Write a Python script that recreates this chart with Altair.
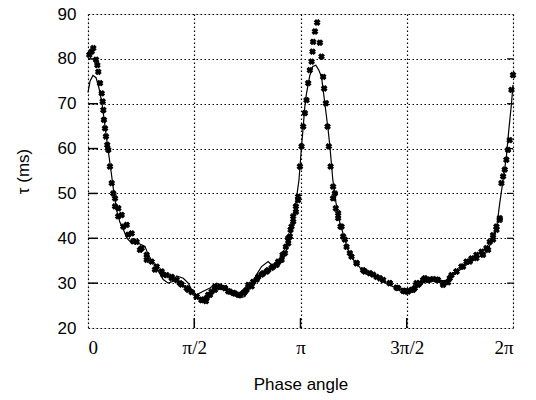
import altair as alt
import pandas as pd

# Measured points (phase in degrees, 0..360 = 0..2π; tau in ms)
scatter_phase = [1.1, 3.1, 4.5, 6.8, 7.9, 8.7, 10.2, 11.6, 12.4, 13.0, 13.5, 14.4, 15.2, 16.3,
                 17.2, 18.6, 20.1, 21.4, 22.9, 25.6, 29.9, 34.1, 38.3, 44.0, 49.7, 56.7, 63.7,
                 70.9, 77.9, 84.9, 92.0, 96.2, 97.6, 100.5, 103.3, 107.5, 111.7, 116.0, 118.8,
                 123.0, 127.2, 131.5, 134.3, 138.6, 142.8, 147.0, 151.3, 155.5, 159.7, 164.0,
                 166.8, 169.6, 171.0, 172.4, 173.8, 176.1, 178.0, 179.5, 180.9, 182.3, 183.7,
                 185.1, 186.5, 187.9, 189.4, 190.2, 190.7, 192.2, 194.1, 196.4, 197.8, 199.2,
                 200.0, 201.5, 202.9, 204.0, 205.5, 207.6, 209.1, 211.9, 214.8, 217.6, 221.8,
                 227.5, 234.5, 241.5, 247.2, 255.6, 262.7, 268.3, 269.8, 274.0, 276.8, 278.2,
                 281.0, 285.3, 289.5, 295.2, 300.8, 306.4, 312.1, 317.7, 323.4, 329.0, 334.6,
                 338.9, 343.1, 346.0, 348.8, 350.2, 351.6, 353.0, 354.4, 355.8, 357.2, 358.7,
                 360.0,
                 # second reading of the dense band
                 22.9, 25.7, 28.5, 32.8, 37.0, 41.2, 45.5, 49.7, 53.9, 58.2, 62.4, 66.6, 70.9,
                 75.1, 79.3, 83.5, 87.8, 92.0, 96.2, 99.9, 101.8, 104.7, 107.5, 111.7, 116.0,
                 120.2, 124.4, 128.7, 132.9, 135.7, 139.9, 144.2, 148.4, 152.6, 156.9, 161.1,
                 164.8, 167.6, 169.6, 171.6, 173.8, 176.1, 178.0,
                 207.6, 209.9, 211.9, 213.9, 216.1, 219.0, 223.2, 227.5, 233.0, 238.7, 244.4,
                 250.0, 255.6, 261.3, 266.9, 271.1, 275.4, 279.6, 283.8, 288.1, 292.3, 296.5,
                 300.8, 305.0, 307.9, 312.1, 316.3, 320.6, 324.8, 329.0, 333.3, 337.5, 340.3,
                 343.1, 346.0, 348.8]
scatter_tau = [80.9, 81.6, 82.4, 79.8, 78.6, 77.1, 74.6, 72.3, 70.5, 68.6, 66.4, 64.5, 62.7, 60.8,
               59.7, 56.0, 52.3, 50.0, 47.1, 44.9, 42.6, 40.8, 39.3, 37.4, 35.2, 33.0, 31.9,
               31.1, 30.0, 28.5, 27.0, 26.3, 26.3, 26.7, 27.4, 28.5, 29.1, 28.9, 28.2,
               27.8, 27.4, 27.8, 28.5, 29.3, 30.8, 31.9, 32.6, 33.4, 34.1, 35.2,
               36.7, 38.9, 40.4, 42.6, 44.9, 47.1, 49.3, 56.0, 60.5, 64.9, 67.9,
               70.8, 74.6, 77.5, 79.4, 81.6, 83.8, 86.1, 88.1, 83.6, 80.5, 76.0,
               73.4, 70.1, 64.9, 60.5, 56.0, 51.5, 50.0, 45.6, 42.6, 39.7, 36.7,
               34.5, 32.6, 31.9, 31.1, 30.0, 28.9, 28.2, 28.2, 28.5, 28.9, 30.0,
               30.0, 31.1, 30.8, 30.8, 29.6, 31.1, 32.6, 33.7, 34.8, 35.6, 36.3,
               37.4, 39.7, 41.9, 44.1, 52.3, 53.8, 55.3, 57.5, 59.7, 61.9, 73.1,
               76.4,
               48.9, 46.7, 45.2, 43.0, 41.1, 39.2, 37.8, 36.3, 34.8, 33.7, 32.6, 31.8, 31.4,
               30.7, 29.7, 28.9, 28.0, 27.0, 26.2, 26.0, 27.4, 28.1, 29.2, 29.2, 28.9,
               28.1, 27.7, 27.4, 28.1, 29.6, 30.3, 31.4, 32.2, 32.9, 33.7, 34.8,
               36.3, 38.1, 40.0, 41.9, 43.7, 45.9, 48.5,
               48.9, 46.7, 44.5, 42.6, 40.4, 38.1, 35.9, 34.4, 32.9, 32.2, 31.4,
               30.7, 30.0, 29.0, 28.3, 28.1, 28.5, 29.6, 30.7, 30.7, 30.9, 30.7,
               30.0, 30.2, 31.8, 32.6, 33.7, 34.8, 35.5, 36.3, 37.0, 37.8, 39.2,
               40.7, 42.6, 44.5]

# Fitted curve
fit_phase = [0.0, 1.7, 4.2, 6.8, 9.3, 11.9, 14.4, 16.9, 19.5, 22.0, 24.5, 27.1, 29.9, 32.8,
             35.6, 42.6, 48.3, 51.0, 58.2, 63.7, 68.0, 72.2, 75.1, 80.7, 84.9, 87.8, 92.0,
             97.6, 103.3, 108.9, 113.2, 117.4, 123.0, 128.7, 132.9, 137.1, 142.8, 147.0,
             152.6, 156.9, 161.1, 165.3, 168.2, 171.0, 173.6, 176.1, 178.7, 180.9, 182.3,
             183.7, 185.1, 187.9, 190.4, 193.0, 195.5, 197.8, 200.6, 203.4, 204.9, 207.4,
             210.0, 213.3, 217.6, 221.8, 226.0, 230.2, 236.2, 243.0, 251.4, 259.9, 268.3,
             276.8, 285.3, 293.7, 302.2, 310.6, 319.1, 327.6, 334.4, 338.6, 342.9, 346.2,
             348.8, 351.6, 354.4, 356.4, 358.7, 360.0]
fit_tau = [72.5, 75.0, 76.3, 75.8, 73.5, 70.0, 65.0, 60.0, 55.0, 50.0, 46.0, 43.5, 42.0, 40.1,
           39.3, 38.9, 38.2, 36.3, 33.4, 30.8, 30.0, 30.4, 31.6, 31.1, 30.0, 28.5, 27.4,
           28.2, 28.9, 30.0, 29.6, 28.3, 27.4, 26.7, 27.0, 28.9, 31.9, 33.7,
           34.8, 33.7, 33.7, 35.2, 37.4, 40.4, 44.0, 48.0, 53.0, 60.5, 64.9,
           69.4, 72.3, 76.3, 78.3, 78.6, 77.5, 76.0, 70.1, 64.2, 60.5, 53.0,
           48.0, 43.5, 39.7, 36.3, 34.8, 33.5, 32.0, 31.5, 30.2, 29.0, 28.2,
           28.8, 30.3, 30.8, 30.5, 32.0, 33.8, 35.3, 36.3, 37.6, 39.7, 42.5,
           47.9, 53.0, 58.2, 64.0, 70.0, 74.2]

x_ticks = [0, 90, 180, 270, 360]
x_labels = ["0", "π/2", "π", "3π/2", "2π"]
y_ticks = [20, 30, 40, 50, 60, 70, 80, 90]
inner_x_ticks = [90, 180, 270]
inner_y_ticks = [30, 40, 50, 60, 70, 80]

sc = pd.DataFrame({"phase": scatter_phase, "tau": scatter_tau})
ft = pd.DataFrame({"phase": fit_phase, "tau": fit_tau, "i": list(range(len(fit_phase)))})
xt = pd.DataFrame({"phase": inner_x_ticks})
yt = pd.DataFrame({"tau": inner_y_ticks})

label_expr = " : ".join(
    f"datum.value == {v} ? '{l}'" for v, l in zip(x_ticks, x_labels)
) + " : ''"

xscale = alt.Scale(domain=[0, 360], nice=False, zero=False)
yscale = alt.Scale(domain=[20, 90], nice=False, zero=False)

xaxis = alt.Axis(values=x_ticks, labelExpr=label_expr, title="Phase angle",
                 grid=True, gridColor="black", gridDash=[1.5, 2.5], gridWidth=1.2, gridOpacity=1,
                 ticks=False, domain=False, labelFont="Liberation Serif", labelFontSize=19,
                 labelColor="black", labelPadding=10, titleFont="Liberation Sans",
                 titleFontSize=17, titleFontWeight="normal", titleColor="black", titlePadding=19)
yaxis = alt.Axis(values=y_ticks, title="τ (ms)", grid=True, gridColor="black",
                 gridDash=[1.5, 2.5], gridWidth=1.2, gridOpacity=1, ticks=False, domain=False,
                 labelFont="Liberation Sans", labelFontSize=17, labelColor="black",
                 labelPadding=12, titleFont="Liberation Sans", titleFontSize=17,
                 titleFontWeight="normal", titleColor="black", titlePadding=25)

base_x = alt.X("phase:Q", scale=xscale, axis=xaxis)
base_y = alt.Y("tau:Q", scale=yscale, axis=yaxis)

points = alt.Chart(sc).mark_point(shape="cross", angle=45, filled=True, color="black",
                                  stroke="black", strokeWidth=1,
                                  size=30, opacity=1).encode(x=base_x, y=base_y)
fit = alt.Chart(ft).mark_line(color="black", strokeWidth=1.2).encode(
    x=alt.X("phase:Q", scale=xscale), y=alt.Y("tau:Q", scale=yscale), order="i:Q")

xt_bottom = alt.Chart(xt).mark_rule(color="black", strokeWidth=1.5).encode(
    x=alt.X("phase:Q", scale=xscale), y=alt.value(314), y2=alt.value(304))
yt_left = alt.Chart(yt).mark_rule(color="black", strokeWidth=1.5).encode(
    y=alt.Y("tau:Q", scale=yscale), x=alt.value(0), x2=alt.value(10))
yt_right = alt.Chart(yt).mark_rule(color="black", strokeWidth=1.2).encode(
    y=alt.Y("tau:Q", scale=yscale), x=alt.value(419), x2=alt.value(425))

chart = alt.layer(xt_bottom, yt_left, yt_right, fit, points).properties(
    width=425, height=314,
    autosize=alt.AutoSizeParams(type="none"),
    padding={"left": 88, "top": 14, "right": 23, "bottom": 72},
).configure_view(stroke="black", strokeWidth=1.5).configure(background="white")

chart.save("out.html", embed_options={"renderer": "svg", "actions": False})
